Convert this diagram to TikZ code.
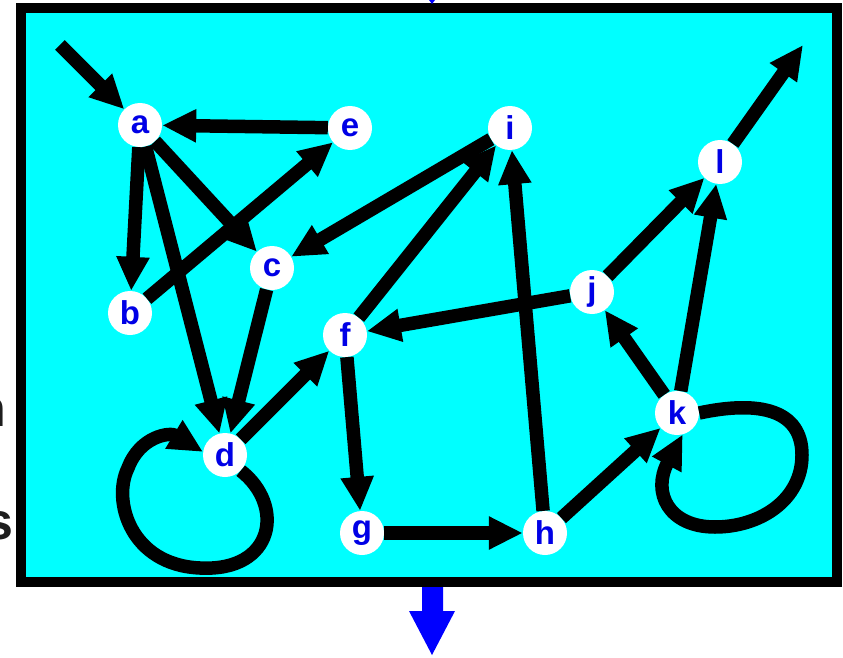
\documentclass[tikz,border=0pt]{standalone}
\usepackage{fontspec}
\setmainfont{Liberation Sans}
\usepackage{xcolor}
\usetikzlibrary{arrows.meta}
\definecolor{bgcyan}{RGB}{0,255,255}
\definecolor{vblue}{RGB}{0,0,230}
\definecolor{txtgray}{RGB}{30,30,30}

\begin{document}
\begin{tikzpicture}[x=1pt, y=-1pt,
  v/.style={circle, fill=white, minimum size=44pt, inner sep=0pt, text=vblue, font=\fontsize{33}{33}\selectfont\bfseries},
  a/.style={-{Triangle[length=34pt,width=31pt]}, line width=13.5pt}
]
  \useasboundingbox (0,0) rectangle (843,658);
  % frame
  \draw[line width=10pt, fill=bgcyan] (21,8) rectangle (837,582);
  % cut-off side text
  \node[anchor=east, text=txtgray, font=\fontsize{52}{52}\selectfont\bfseries] (tn) at (10,412) {n};
  \node[anchor=east, text=txtgray, font=\fontsize{52}{52}\selectfont\bfseries] (ts) at (17,526) {s};
  % vertices
  \node[v] (a) at (140,125) {a};
  \node[v] (e) at (350,128) {e};
  \node[v] (i) at (510,128) {i};
  \node[v] (l) at (720,162) {l};
  \node[v] (c) at (272,268) {c};
  \node[v] (b) at (130,313) {b};
  \node[v] (j) at (592,292) {j};
  \node[v] (f) at (345,335) {f};
  \node[v] (d) at (225,455) {d};
  \node[v] (k) at (677,413) {k};
  \node[v] (g) at (362,533) {g};
  \node[v] (h) at (545,533) {h};
  \coordinate (in) at (60,45);
  \coordinate (out) at (803,45);
  % edges
  \draw[a] (in) -- (a);
  \draw[a] (e) -- (a);
  \draw[a] (a) -- (b);
  \draw[a] (a) -- (c);
  \draw[a] (a) -- (d);
  \draw[a] (b) -- (e);
  \draw[a] (i) -- (c);
  \draw[a] (c) -- (d);
  \draw[a] (d) -- (f);
  \draw[a] (f) -- (i);
  \draw[a] (f) -- (g);
  \draw[a] (g) -- (h);
  \draw[a] (h) -- (i);
  \draw[a] (h) -- (k);
  \draw[a] (j) -- (f);
  \draw[a] (j) -- (l);
  \draw[a] (k) -- (j);
  \draw[a] (k) -- (l);
  \draw[a] (l) -- (out);
  % self loops
  \draw[a] (d.-45) .. controls (285,505) and (275,572) .. (200,568)
    .. controls (130,565) and (112,500) .. (128,468)
    .. controls (140,436) and (170,432) .. (d.172);
  \draw[a] (k.east) .. controls (760,400) and (802,410) .. (802,455)
    .. controls (802,500) and (760,527) .. (715,527)
    .. controls (668,527) and (652,492) .. (k.-75);
  % arrows off the frame
  \fill[blue] (422,587) -- (443,587) -- (443,611) -- (455,611) -- (432,655)
    -- (409,611) -- (422,611) -- cycle;
  \fill[blue] (429,0) -- (435,0) -- (432,4) -- cycle;
\end{tikzpicture}
\end{document}
